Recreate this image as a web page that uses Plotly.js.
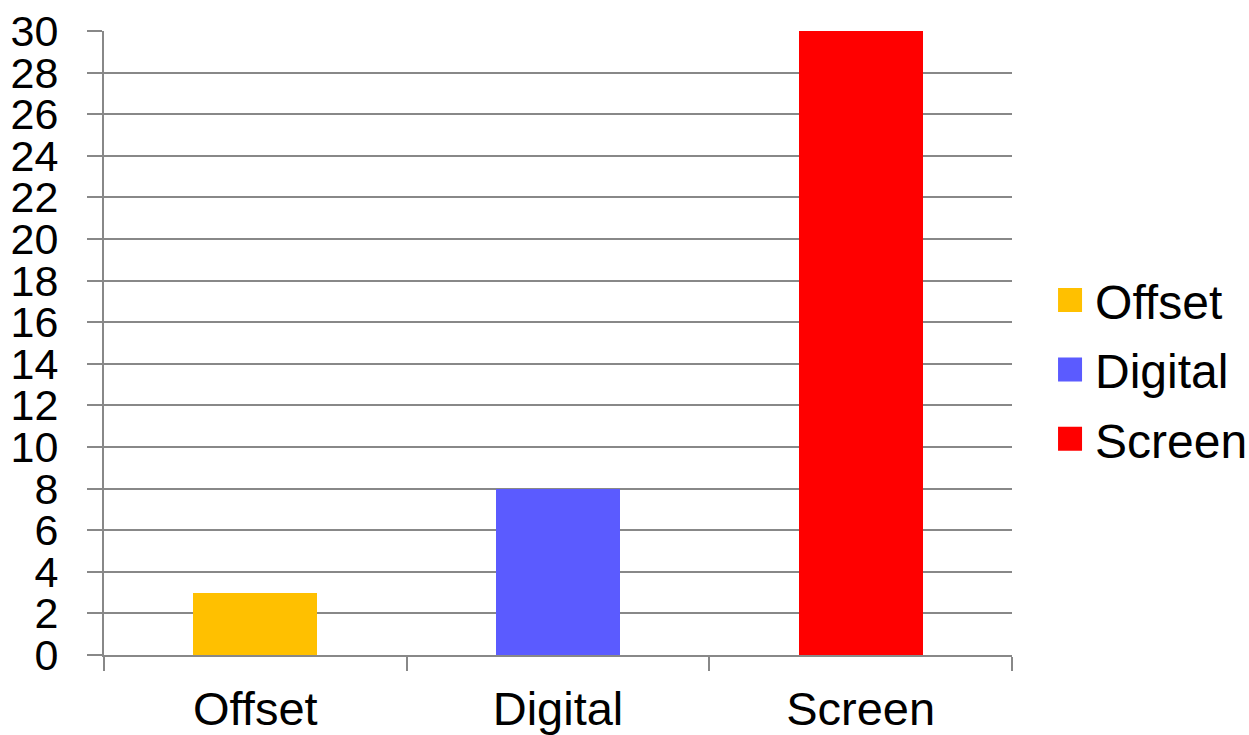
<!DOCTYPE html>
<html>
<head>
<meta charset="utf-8">
<script src="https://cdn.plot.ly/plotly-3.0.1.min.js"></script>
<style>
  html, body { margin: 0; padding: 0; background: #fff; }
  #chart { width: 1249px; height: 735px; }
</style>
</head>
<body>
<div id="chart"></div>
<script>
const categories = ["Offset", "Digital", "Screen"];
const values = [3, 8, 30];
const colors = ["#FFC000", "#5B5BFF", "#FF0000"];
const yTicks = [0, 2, 4, 6, 8, 10, 12, 14, 16, 18, 20, 22, 24, 26, 28, 30];

const gridColor = "#888888";
const fontFamily = "'Liberation Sans', Arial, sans-serif";

const traces = categories.map((c, i) => ({
  type: "bar",
  name: c,
  x: [c],
  y: [values[i]],
  marker: { color: colors[i], line: { width: 0 } },
  legendgroup: c,
  hoverinfo: "x+y"
}));

const layout = {
  width: 1249,
  height: 735,
  margin: { l: 104, r: 237, t: 31, b: 80, pad: 0, autoexpand: false },
  paper_bgcolor: "#ffffff",
  plot_bgcolor: "#ffffff",
  font: { family: fontFamily, color: "#000000" },
  barmode: "stack",
  bargap: 0.59,
  showlegend: true,
  legend: {
    x: 1.0474, xanchor: "left",
    y: 0.457, yanchor: "middle",
    font: { size: 48, family: fontFamily, color: "#000" },
    traceorder: "grouped",
    tracegroupgap: 4,
    bgcolor: "rgba(0,0,0,0)",
    borderwidth: 0
  },
  xaxis: {
    type: "category",
    categoryorder: "array",
    categoryarray: categories,
    tickson: "boundaries",
    ticks: "outside",
    ticklen: 14,
    tickwidth: 2,
    tickcolor: gridColor,
    showgrid: false,
    showline: true,
    linecolor: gridColor,
    linewidth: 2,
    zeroline: false,
    tickfont: { size: 47, family: fontFamily, color: "#000" },
    ticklabelstandoff: 12
  },
  yaxis: {
    range: [0, 30],
    tickmode: "array",
    tickvals: yTicks,
    ticktext: yTicks.map(String),
    ticks: "outside",
    ticklen: 15,
    tickwidth: 2,
    tickcolor: gridColor,
    showgrid: true,
    gridcolor: gridColor,
    gridwidth: 2,
    showline: true,
    linecolor: gridColor,
    linewidth: 2,
    zeroline: false,
    tickfont: { size: 43, family: fontFamily, color: "#000" },
    ticklabelstandoff: 20
  }
};

Plotly.newPlot("chart", traces, layout, { staticPlot: true, displayModeBar: false }).then(gd => {
  // enlarge the legend swatches to square blocks like the reference
  gd.querySelectorAll(".legend .legendpoints path").forEach(p => {
    p.setAttribute("d", "M7,12H-17V-12H7Z");
  });
});
</script>
</body>
</html>
